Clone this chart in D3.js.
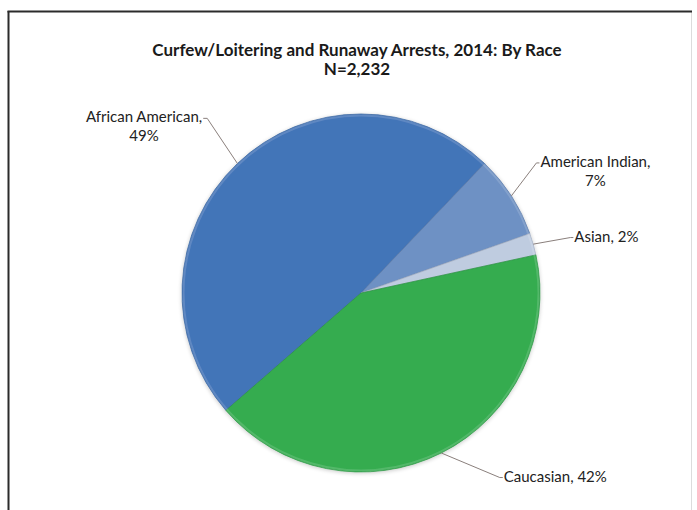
<!DOCTYPE html>
<html><head><meta charset="utf-8">
<script src="https://cdn.jsdelivr.net/npm/d3@7"></script>
<style>html,body{margin:0;padding:0;background:#fff;}svg{display:block;}</style>
</head><body>
<svg id="c" width="697" height="510"></svg>
<script>
// ---- data ----
const titleLines = ["Curfew/Loitering and Runaway Arrests, 2014: By Race", "N=2,232"];
const categories = ["African American", "American Indian", "Asian", "Caucasian"];
const counts = [1083, 167, 44, 938];          // estimated, N = 2,232
const percentLabels = ["49%", "7%", "2%", "42%"];

// ---- styling / layout ----
const colors = ["#477CC4", "#759BD1", "#CCD9EF", "#37B754"];
const font = "Lato, 'Open Sans', sans-serif";

const svg = d3.select("#c");
const W = 697, H = 510;

// frame
svg.append("rect").attr("x", 0).attr("y", 0).attr("width", W).attr("height", H).attr("fill", "#fff");
svg.append("line").attr("x1", 691.5).attr("x2", 691.5).attr("y1", 11).attr("y2", H).attr("stroke", "#dcdcdc").attr("stroke-width", 1);
svg.append("line").attr("x1", 8.5).attr("x2", 8.5).attr("y1", 11).attr("y2", H).attr("stroke", "#2b2b2b").attr("stroke-width", 2);
svg.append("line").attr("x1", 7.5).attr("x2", 692).attr("y1", 11.5).attr("y2", 11.5).attr("stroke", "#2b2b2b").attr("stroke-width", 2);

// title
const title = svg.append("text").attr("text-anchor", "middle").attr("font-family", font)
  .attr("font-weight", "bold").attr("font-size", 17).attr("fill", "#1a1a1a");
title.selectAll("tspan").data(titleLines).join("tspan")
  .attr("x", 357).attr("y", (d, i) => 56 + i * 19).text(d => d);

// pie
const cx = 361, cy = 293, R = 179;
const startDeg = 229;
const pie = d3.pie().sort(null).value(d => d)
  .startAngle(startDeg * Math.PI / 180).endAngle(startDeg * Math.PI / 180 + 2 * Math.PI);
const arcs = pie(counts);
const arc = d3.arc().innerRadius(0).outerRadius(R);

const defs = svg.append("defs");
colors.forEach((c, i) => {
  const g = defs.append("radialGradient").attr("id", "g" + i)
    .attr("gradientUnits", "userSpaceOnUse").attr("cx", cx + 20).attr("cy", cy - 60).attr("r", R * 1.35)
    .attr("fx", cx + 20).attr("fy", cy - 80);
  g.append("stop").attr("offset", "0%").attr("stop-color", d3.color(c).brighter(0.06));
  g.append("stop").attr("offset", "75%").attr("stop-color", c);
  g.append("stop").attr("offset", "100%").attr("stop-color", d3.color(c).darker(0.18));
});
const shadow = defs.append("filter").attr("id", "sh").attr("x", "-10%").attr("y", "-10%").attr("width", "120%").attr("height", "120%");
shadow.append("feGaussianBlur").attr("in", "SourceAlpha").attr("stdDeviation", 2).attr("result", "b");
shadow.append("feOffset").attr("dx", 0).attr("dy", 1).attr("result", "o");
shadow.append("feComponentTransfer").append("feFuncA").attr("type", "linear").attr("slope", 0.22);
const m = shadow.append("feMerge"); m.append("feMergeNode"); m.append("feMergeNode").attr("in", "SourceGraphic");

const gPie = svg.append("g").attr("transform", `translate(${cx},${cy})`).attr("filter", "url(#sh)");
gPie.selectAll("path").data(arcs).join("path")
  .attr("d", arc)
  .attr("fill", (d, i) => `url(#g${i})`)
  .attr("stroke", (d, i) => d3.color(colors[i]).darker(0.6)).attr("stroke-width", 0.7);
gPie.append("circle").attr("r", R - 1.5).attr("fill", "none").attr("stroke", "rgba(255,255,255,0.15)").attr("stroke-width", 2);

// labels with leader lines
const labelLayout = [ // radial factor, angle adjustment (deg), side
  { k: 1.30, da: 2.3, side: "left" },
  { k: 1.22, da: -3.7, side: "right" },
  { k: 1.21, da: 1.0, side: "right" },
  { k: 1.29, da: -10.3, side: "right" }
];
const polar = (deg, r) => [cx + r * Math.sin(deg * Math.PI / 180), cy - r * Math.cos(deg * Math.PI / 180)];
const lbl = svg.append("g").attr("font-family", font).attr("font-size", 15).attr("fill", "#222");

arcs.forEach((a, i) => {
  const mid = ((a.startAngle + a.endAngle) / 2) * 180 / Math.PI;
  const p0 = polar(mid, R);
  const L = labelLayout[i];
  const p1 = polar(mid + L.da, R * L.k);
  const pct = percentLabels[i];
  const twoLine = i < 2;
  const p2 = [p1[0] + (L.side === "left" ? -4 : 3), p1[1]];
  lbl.append("polyline").attr("points", [p0, p1, p2].map(p => p.join(",")).join(" "))
    .attr("fill", "none").attr("stroke", "#8a7f7c").attr("stroke-width", 1);
  const t = lbl.append("text").attr("text-anchor", "middle");
  const lines = twoLine ? [categories[i] + ",", pct] : [categories[i] + ", " + pct];
  t.selectAll("tspan").data(lines).join("tspan").text(d => d);
  let w = 0;
  t.selectAll("tspan").each(function () { w = Math.max(w, this.getComputedTextLength()); });
  const bx = L.side === "left" ? p2[0] - 1 - w / 2 : p2[0] + 1 + w / 2;
  const y0 = p1[1] + 4;
  t.selectAll("tspan").attr("x", bx).attr("y", (d, j) => y0 + j * 19);
});
</script>
</body></html>
